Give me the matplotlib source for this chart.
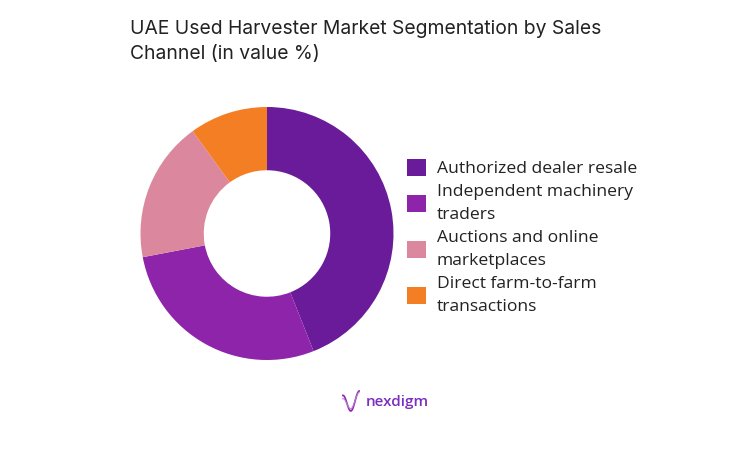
import numpy as np
import matplotlib.pyplot as plt
from matplotlib.patches import Patch

# segment data (value %)
channels = ["Authorized dealer resale", "Independent machinery\ntraders",
            "Auctions and online\nmarketplaces", "Direct farm-to-farm\ntransactions"]
shares = [44, 28, 18, 10]
colors = ["#6A1B9A", "#8E24AA", "#DB879E", "#F47E24"]

W, H = 751, 471
fig = plt.figure(figsize=(W / 100, H / 100), dpi=100)

# donut axes placed in pixel coords
cx, cy, r = 267, 233.5, 126.5
ax = fig.add_axes([(cx - r) / W, (H - cy - r) / H, 2 * r / W, 2 * r / H])
ax.pie(shares, colors=colors, startangle=90, counterclock=False,
       wedgeprops=dict(width=0.5, edgecolor="none"), radius=1)
ax.set_xlim(-1, 1)
ax.set_ylim(-1, 1)
ax.set_aspect("equal")
ax.axis("off")

fig.text(130 / W, 1 - 20 / H,
         "UAE Used Harvester Market Segmentation by Sales\nChannel (in value %)",
         fontsize=13.9, family="Inter", color="#222222", va="top", ha="left",
         linespacing=1.5)

handles = [Patch(facecolor=c, edgecolor="none") for c in colors]
leg = fig.legend(handles, channels, loc="upper left",
                 bbox_to_anchor=(400 / W, 1 - 152 / H), frameon=False,
                 prop=dict(family="Open Sans", size=12.6), handlelength=1.1,
                 handleheight=1.1, handletextpad=0.6, labelspacing=0.4,
                 borderaxespad=0)
for t in leg.get_texts():
    t.set_color("#222222")
    t.set_linespacing(1.58)

# logo
lx = np.linspace(0, 1, 50)
lax = fig.add_axes([342 / W, 1 - 412 / H, 18 / W, 22 / H])
lax.plot(lx, np.sin(lx * np.pi * 2 + np.pi / 2) * 0.4 + lx * 0.2, color="#8E24AA", lw=1.2)
lax.plot(lx, np.sin(lx * np.pi * 2 + np.pi / 2) * 0.3 + lx * 0.3 - 0.05, color="#B57BD6", lw=0.8)
lax.axis("off")
fig.text(366 / W, 1 - 402 / H, "nexdigm", fontsize=11, family="Open Sans",
         weight="semibold", color="#7B2FBE", va="center", ha="left")

fig.savefig("out.png", dpi=100)
